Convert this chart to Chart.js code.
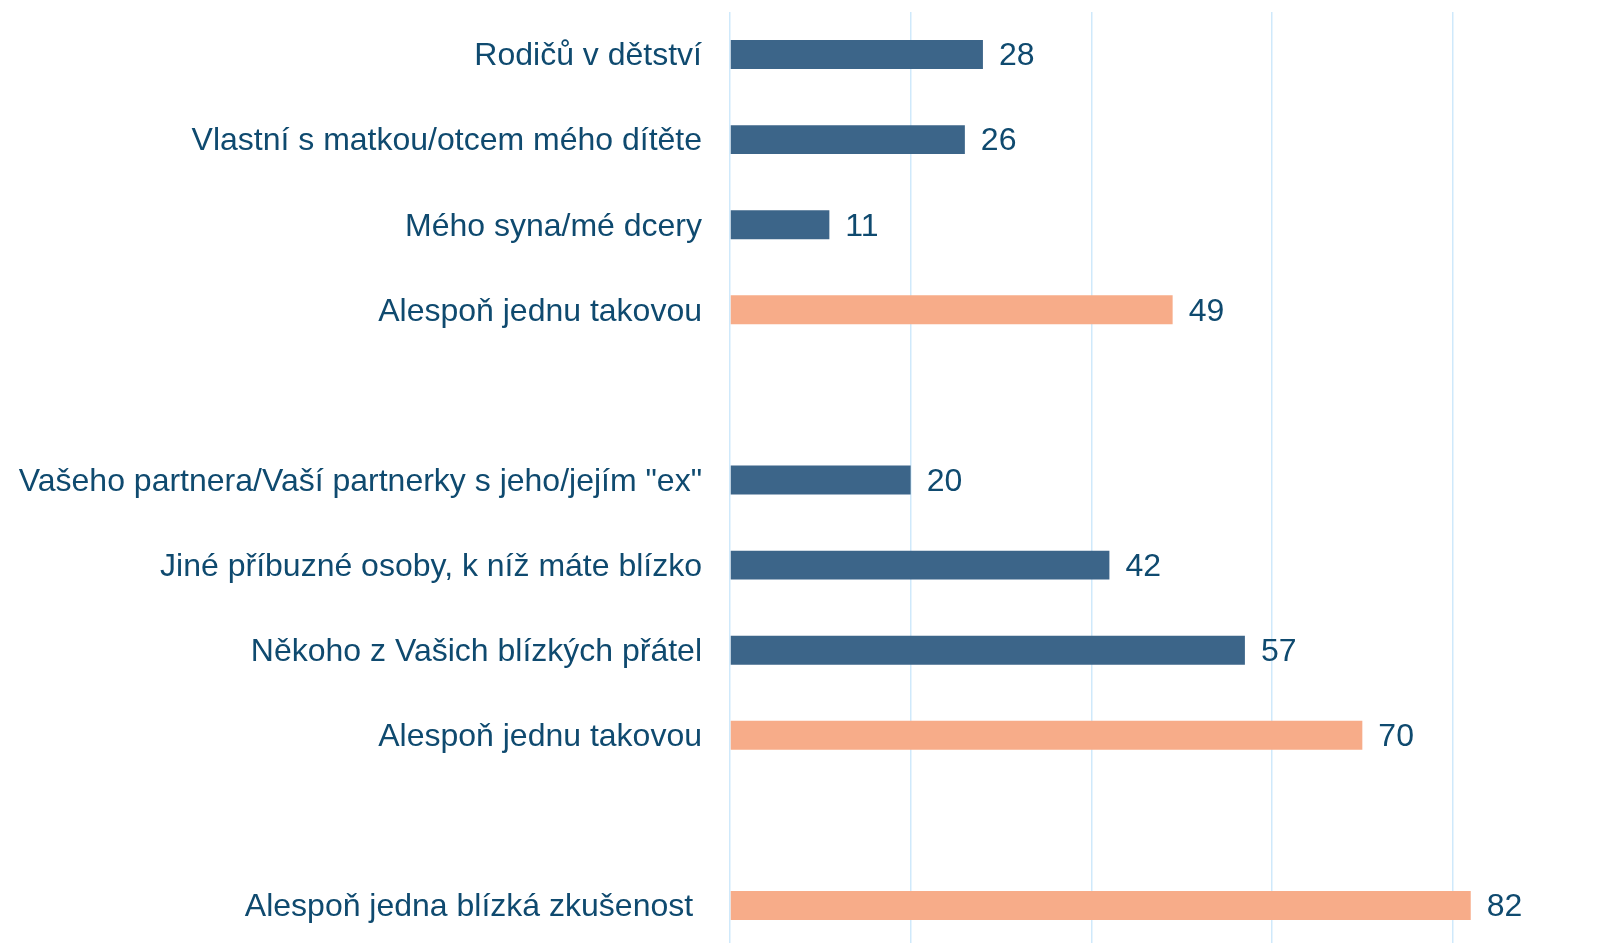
<!DOCTYPE html>
<html>
<head>
<meta charset="utf-8">
<script src="https://cdn.jsdelivr.net/npm/chart.js@4.4.0/dist/chart.umd.min.js"></script>
<style>
  html, body { margin: 0; padding: 0; background: #fff; overflow: hidden; }
  #wrap { width: 1621px; height: 948px; position: relative; }
</style>
</head>
<body>
<div id="wrap"><canvas id="chart"></canvas></div>
<script>
// categories (empty ones are spacer rows between groups)
const labels = [
  'Rodičů v dětství',
  'Vlastní s matkou/otcem mého dítěte',
  'Mého syna/mé dcery',
  'Alespoň jednu takovou',
  '',
  'Vašeho partnera/Vaší partnerky s jeho/jejím "ex"',
  'Jiné příbuzné osoby, k níž máte blízko',
  'Někoho z Vašich blízkých přátel',
  'Alespoň jednu takovou',
  '',
  'Alespoň jedna blízká zkušenost '
];
const values = [28, 26, 11, 49, null, 20, 42, 57, 70, null, 82];
const isTotal = [false, false, false, true, false, false, false, false, true, false, true];

const blue = '#3c6589';
const orange = '#f7ac89';
const textColor = '#0f4a6f';
const fontFamily = '"Liberation Sans", Arial, sans-serif';

// draw the number to the right of each bar
const valueLabels = {
  id: 'valueLabels',
  afterDatasetsDraw(chart) {
    const ctx = chart.ctx;
    const meta = chart.getDatasetMeta(0);
    ctx.save();
    ctx.font = '32px ' + fontFamily;
    ctx.fillStyle = textColor;
    ctx.textAlign = 'left';
    ctx.textBaseline = 'middle';
    meta.data.forEach((bar, i) => {
      if (values[i] == null) return;
      ctx.fillText(values[i], bar.x + 16, bar.y + 2);
    });
    ctx.restore();
  }
};

new Chart(document.getElementById('chart'), {
  type: 'bar',
  data: {
    labels: labels,
    datasets: [{
      data: values,
      backgroundColor: isTotal.map(t => t ? orange : blue),
      borderWidth: 0,
      categoryPercentage: 1,
      barPercentage: 0.34
    }]
  },
  options: {
    indexAxis: 'y',
    responsive: true,
    maintainAspectRatio: false,
    animation: false,
    layout: { padding: { top: 12, right: 78, left: 0, bottom: 0 } },
    plugins: {
      legend: { display: false },
      tooltip: { enabled: false }
    },
    scales: {
      x: {
        min: 0,
        max: 90,
        afterFit(scale) { scale.height = 0; scale.paddingLeft = 0; scale.paddingRight = 0; },
        ticks: { display: false, stepSize: 20 },
        border: { display: false },
        grid: {
          drawTicks: false,
          lineWidth: 1.5,
          color: c => (c.tick && c.tick.value % 20 === 0) ? '#cfe9fb' : 'rgba(0,0,0,0)'
        }
      },
      y: {
        afterFit(scale) { scale.width = 730; scale.paddingTop = 0; scale.paddingBottom = 0; },
        border: { display: false },
        grid: { display: false, drawTicks: false },
        ticks: {
          padding: 28,
          labelOffset: 2,
          color: textColor,
          font: { family: fontFamily, size: 32 }
        }
      }
    }
  },
  plugins: [valueLabels]
});
</script>
</body>
</html>
